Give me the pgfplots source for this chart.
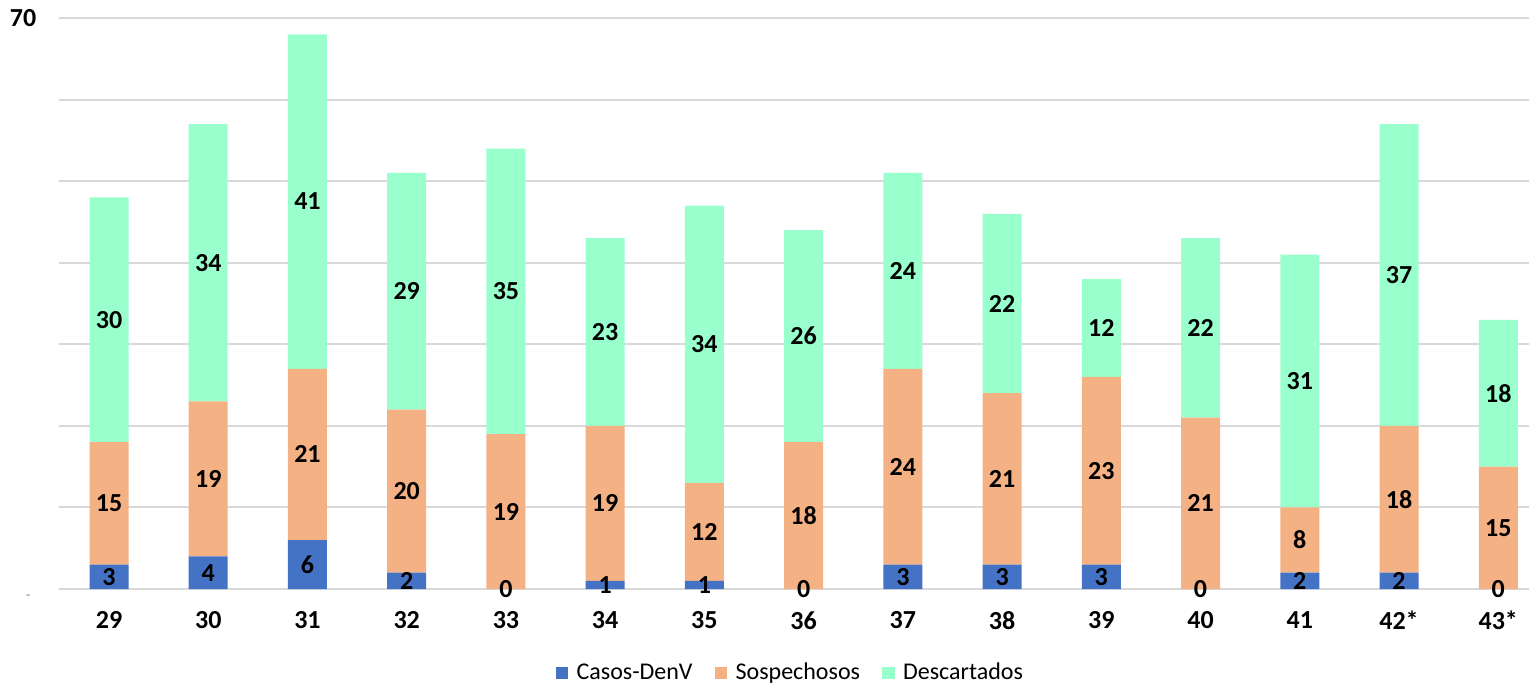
\documentclass[border=0pt]{standalone}
\usepackage{pgfplots}
\pgfplotsset{compat=1.18}
\usepackage{pgfplotstable}
\usepackage{fontspec}
\setmainfont{Carlito}

\definecolor{casos}{HTML}{4472C4}
\definecolor{sosp}{HTML}{F4B183}
\definecolor{desc}{HTML}{99FFCC}
\definecolor{grid}{HTML}{D9D9D9}

% semana, casos, sospechosos, descartados
\pgfplotstableread{
x a  b  c
0  3 15 30
1  4 19 34
2  6 21 41
3  2 20 29
4  0 19 35
5  1 19 23
6  1 12 34
7  0 18 26
8  3 24 24
9  3 21 22
10 3 23 12
11 0 21 22
12 2  8 31
13 2 18 37
14 0 15 18
}\datos

\pgfplotsset{
  base/.style={
    scale only axis, width=734.8pt, height=285.5pt,
    at={(0,0)}, anchor=south west,
    xmin=-0.5, xmax=14.31, ymin=0, ymax=70,
    clip=false,
  },
}

\begin{document}
\begin{tikzpicture}
\useasboundingbox (-29.7pt,-48.5pt) rectangle (734.8pt,294.5pt);
\begin{axis}[base,
  ybar stacked, bar width=19.5pt,
  axis x line=bottom, axis y line=left,
  x axis line style={draw=grid, line width=1pt, -},
  y axis line style={draw=none},
  ymajorgrids, grid style={draw=grid, line width=1pt},
  ytick={0,10,...,70}, yticklabels=\empty, ytick style={draw=none},
  xtick={0,...,14}, xtick style={draw=none},
  xticklabels={29,30,31,32,33,34,35,36,37,38,39,40,41,42*,43*},
  ticklabel style={font=\bfseries\fontsize{13}{15}\selectfont},
  xticklabel style={yshift=-5.5pt},
  legend style={at={(0.498,-0.147)}, anchor=center, draw=none, legend columns=3,
    font=\fontsize{12}{14}\selectfont,
    /tikz/every even column/.append style={column sep=9pt}},
  legend image code/.code={\fill[#1] (0pt,-3.2pt) rectangle (6.4pt,3.2pt);
    \path (8.5pt,0pt);},
]
\addplot[fill=casos, draw=none] table[x=x, y=a] {\datos};
\addplot[fill=sosp, draw=none] table[x=x, y=b] {\datos};
\addplot[fill=desc, draw=none] table[x=x, y=c] {\datos};
\legend{Casos-DenV, Sospechosos, Descartados}
\end{axis}
% eje y: solo 70 y guion
\begin{axis}[base, axis lines=none, xtick=\empty, ytick=\empty]
\node[anchor=east, font=\bfseries\fontsize{13}{15}\selectfont] at (axis cs:-0.5,70) [xshift=-8pt] {70};
\node[anchor=east, text=gray, font=\fontsize{7}{8}\selectfont] at (axis cs:-0.5,0) [xshift=-11pt, yshift=-4pt] {-};
\end{axis}
% etiquetas de datos centradas
\begin{axis}[base, axis lines=none, xtick=\empty, ytick=\empty,
  nodes near coords, point meta=explicit,
  /pgf/number format/assume math mode=true,
  every node near coord/.style={anchor=center, font=\bfseries\fontsize{13}{15}\selectfont, text=black}]
\addplot[draw=none, mark=none, nodes near coords] table[x=x, y expr=\thisrow{a}/2, meta=a] {\datos};
\addplot[draw=none, mark=none, nodes near coords] table[x=x, y expr=\thisrow{a}+\thisrow{b}/2, meta=b] {\datos};
\addplot[draw=none, mark=none, nodes near coords] table[x=x, y expr=\thisrow{a}+\thisrow{b}+\thisrow{c}/2, meta=c] {\datos};
\end{axis}
\end{tikzpicture}
\end{document}
